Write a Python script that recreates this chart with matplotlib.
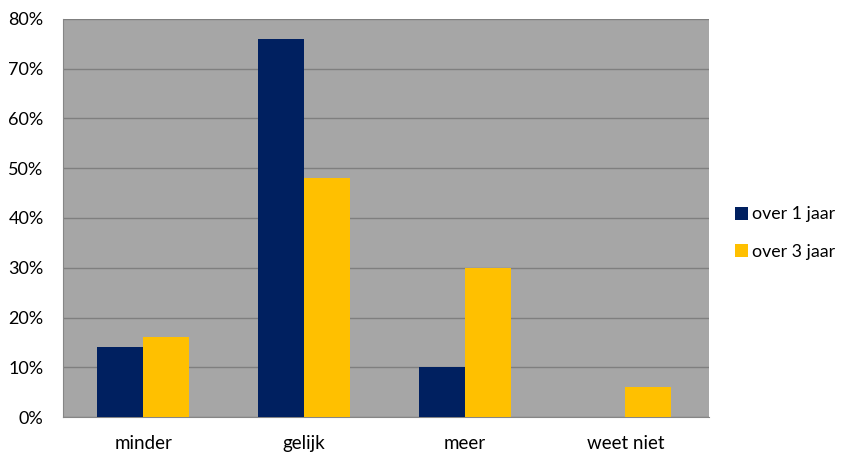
import matplotlib.pyplot as plt
import numpy as np

plt.rcParams['font.family'] = ['Lato', 'DejaVu Sans']

categories = ['minder', 'gelijk', 'meer', 'weet niet']
over_1_jaar = [14, 76, 10, 0]
over_3_jaar = [16, 48, 30, 6]
yticks = [0, 10, 20, 30, 40, 50, 60, 70, 80]

fig = plt.figure(figsize=(8.49, 4.55), dpi=100)
ax = fig.add_axes([63/849, 1 - 417/455, (709 - 63)/849, (417 - 19)/455])
ax.set_facecolor('#A6A6A6')

x = np.arange(len(categories))
w = 0.286
b1 = ax.bar(x - w/2, over_1_jaar, w, color='#002060', label='over 1 jaar', zorder=3)
b2 = ax.bar(x + w/2, over_3_jaar, w, color='#FFC000', label='over 3 jaar', zorder=3)

ax.set_xlim(-0.5, 3.52)
ax.set_ylim(0, 80)
ax.set_yticks(yticks)
ax.set_yticklabels([f'{t}%' for t in yticks], fontsize=13)
ax.set_xticks(x)
ax.set_xticklabels(categories, fontsize=13.5)
ax.tick_params(axis='x', length=0, pad=13)
ax.tick_params(axis='y', length=0, pad=14)
ax.yaxis.grid(True, color='#7F7F7F', linewidth=1, zorder=0)

for side in ['top', 'right']:
    ax.spines[side].set_visible(False)
ax.spines['left'].set_color('#868686')
ax.spines['bottom'].set_color('#868686')

fig.legend(handles=[b1, b2], loc='center left', bbox_to_anchor=(719/849, 1 - 233/455),
           frameon=False, fontsize=12.8, handlelength=0.75, handleheight=0.75,
           handletextpad=0.2, labelspacing=1.2)

fig.savefig('out.png', dpi=100)
